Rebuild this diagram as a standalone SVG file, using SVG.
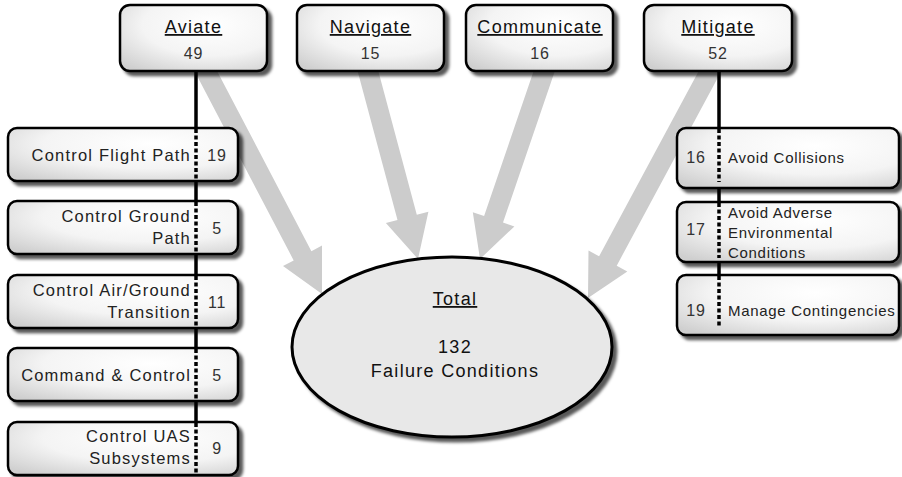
<svg xmlns="http://www.w3.org/2000/svg" width="902" height="477" viewBox="0 0 902 477">
  <defs>
    <radialGradient id="boxFill" cx="0.62" cy="0.3" r="0.85">
      <stop offset="0" stop-color="#ffffff"/>
      <stop offset="0.55" stop-color="#f4f4f4"/>
      <stop offset="1" stop-color="#cfcfcf"/>
    </radialGradient>
    <filter id="shadow" x="-10%" y="-15%" width="130%" height="150%">
      <feDropShadow dx="4" dy="4" stdDeviation="1.5" flood-color="#000" flood-opacity="0.65"/>
    </filter>
    <style>
      text { font-family: "Liberation Sans", Arial, sans-serif; }
      .box { fill: url(#boxFill); stroke: #000; stroke-width: 2.5; filter: url(#shadow); }
      .title { font-size: 18px; letter-spacing: 1.3px; text-anchor: middle; text-decoration: underline; fill: #111; }
      .count { font-size: 16px; letter-spacing: 0.8px; text-anchor: middle; fill: #333; }
      .label { font-size: 16.5px; letter-spacing: 1.2px; fill: #222; }
      .label-right { font-size: 15px; letter-spacing: 0.7px; fill: #222; }
      .lbl-r { text-anchor: end; }
      .arrow { fill: #cccccc; }
      .stem { stroke: #000; stroke-width: 3.5; fill: none; }
      .divider { stroke: #000; stroke-width: 3.5; stroke-dasharray: 4 2.5; fill: none; }
      .total { fill: #e8e8e8; stroke: #000; stroke-width: 3; filter: url(#shadow); }
      .big { font-size: 18px; letter-spacing: 1.3px; text-anchor: middle; fill: #111; }
    </style>
  </defs>

  <rect width="902" height="477" fill="#ffffff"/>

  <!-- connectors: broad grey arrows into the total, and the black stems -->
  <g id="connectors">
    <polygon class="arrow" points="191.1,64.6 293.7,260.4 283.0,266.0 322,294 322.0,245.6 311.4,251.2 208.9,55.4"/>
    <polygon class="arrow" points="355.3,62.6 397.5,220.0 385.9,223.1 418,259 428.4,211.7 416.8,214.8 374.7,57.4"/>
    <polygon class="arrow" points="538.5,56.8 484.1,216.0 472.8,212.2 480,259 514.4,226.4 503.0,222.5 557.5,63.2"/>
    <polygon class="arrow" points="707.2,55.3 599.1,256.3 588.5,250.6 588,298 627.3,271.4 616.7,265.7 724.8,64.7"/>
    <line class="stem" x1="196" y1="68" x2="196" y2="475"/>
    <line class="stem" x1="719" y1="68" x2="719" y2="330"/>
  </g>

  <!-- top-level functions -->
  <g id="node-aviate">
    <rect class="box" x="120" y="5" width="147" height="66" rx="10"/>
    <text class="title" x="193.5" y="33">Aviate</text>
    <text class="count" x="193.5" y="59">49</text>
  </g>
  <g id="node-navigate">
    <rect class="box" x="297" y="5" width="147" height="66" rx="10"/>
    <text class="title" x="370.5" y="33">Navigate</text>
    <text class="count" x="370.5" y="59">15</text>
  </g>
  <g id="node-communicate">
    <rect class="box" x="466" y="5" width="147" height="66" rx="10"/>
    <text class="title" x="540" y="33">Communicate</text>
    <text class="count" x="540" y="59">16</text>
  </g>
  <g id="node-mitigate">
    <rect class="box" x="644" y="5" width="148" height="66" rx="10"/>
    <text class="title" x="718" y="33">Mitigate</text>
    <text class="count" x="718" y="59">52</text>
  </g>

  <!-- Aviate sub-functions -->
  <g id="node-control-flight-path">
    <rect class="box" x="8" y="128" width="230" height="53" rx="9"/>
    <line class="divider" x1="196" y1="129" x2="196" y2="181"/>
    <text class="label lbl-r" x="191" y="161">Control Flight Path</text>
    <text class="count" x="217" y="161">19</text>
  </g>
  <g id="node-control-ground-path">
    <rect class="box" x="8" y="201" width="230" height="53" rx="9"/>
    <line class="divider" x1="196" y1="202" x2="196" y2="254"/>
    <text class="label lbl-r" x="191" y="222">Control Ground</text>
    <text class="label lbl-r" x="191" y="244">Path</text>
    <text class="count" x="217" y="234">5</text>
  </g>
  <g id="node-control-air-ground-transition">
    <rect class="box" x="8" y="275" width="230" height="53" rx="9"/>
    <line class="divider" x1="196" y1="276" x2="196" y2="328"/>
    <text class="label lbl-r" x="191" y="296">Control Air/Ground</text>
    <text class="label lbl-r" x="191" y="318">Transition</text>
    <text class="count" x="217" y="308">11</text>
  </g>
  <g id="node-command-control">
    <rect class="box" x="8" y="348" width="230" height="53" rx="9"/>
    <line class="divider" x1="196" y1="349" x2="196" y2="401"/>
    <text class="label lbl-r" x="191" y="381">Command &amp; Control</text>
    <text class="count" x="217" y="381">5</text>
  </g>
  <g id="node-control-uas-subsystems">
    <rect class="box" x="8" y="422" width="230" height="53" rx="9"/>
    <line class="divider" x1="196" y1="423" x2="196" y2="475"/>
    <text class="label lbl-r" x="191" y="442">Control UAS</text>
    <text class="label lbl-r" x="191" y="464">Subsystems</text>
    <text class="count" x="217" y="454">9</text>
  </g>

  <!-- Mitigate sub-functions -->
  <g id="node-avoid-collisions">
    <rect class="box" x="677" y="128" width="222" height="60" rx="9"/>
    <line class="divider" x1="719" y1="129" x2="719" y2="182"/>
    <text class="count" x="696" y="163">16</text>
    <text class="label-right" x="728" y="163">Avoid Collisions</text>
  </g>
  <g id="node-avoid-adverse-conditions">
    <rect class="box" x="677" y="202" width="222" height="60" rx="9"/>
    <line class="divider" x1="719" y1="203" x2="719" y2="258"/>
    <text class="count" x="696" y="235">17</text>
    <text class="label-right" x="728" y="218">Avoid Adverse</text>
    <text class="label-right" x="728" y="238">Environmental</text>
    <text class="label-right" x="728" y="258">Conditions</text>
  </g>
  <g id="node-manage-contingencies">
    <rect class="box" x="677" y="275" width="222" height="60" rx="9"/>
    <line class="divider" x1="719" y1="276" x2="719" y2="328"/>
    <text class="count" x="696" y="316">19</text>
    <text class="label-right" x="728" y="316">Manage Contingencies</text>
  </g>

  <!-- overall total -->
  <g id="node-total">
    <ellipse class="total" cx="452" cy="347" rx="160" ry="90"/>
    <text class="big" x="455" y="305" text-decoration="underline">Total</text>
    <text class="big" x="455" y="353">132</text>
    <text class="big" x="455" y="377">Failure Conditions</text>
  </g>
</svg>
